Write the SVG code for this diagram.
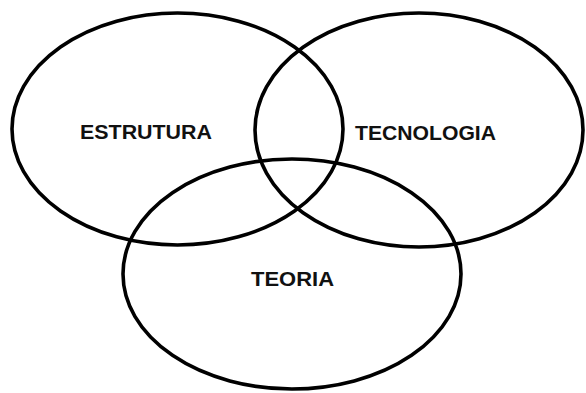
<svg xmlns="http://www.w3.org/2000/svg" width="586" height="393" viewBox="0 0 586 393">
<style>
.set{fill:none;stroke:#000;stroke-width:3.6}
.lbl{font-family:"Liberation Sans",Arial,sans-serif;font-weight:bold;font-size:21px;fill:#111;text-anchor:start}
</style>
<rect width="586" height="393" fill="#fff"/>
<g id="estrutura">
<ellipse class="set" cx="177.5" cy="129" rx="165.5" ry="116"/>
<text class="lbl" x="80" y="139" textLength="132" lengthAdjust="spacingAndGlyphs">ESTRUTURA</text>
</g>
<g id="tecnologia">
<ellipse class="set" cx="419" cy="130" rx="164" ry="117"/>
<text class="lbl" x="355" y="140" textLength="141" lengthAdjust="spacingAndGlyphs">TECNOLOGIA</text>
</g>
<g id="teoria">
<ellipse class="set" cx="292" cy="274" rx="169" ry="115"/>
<text class="lbl" x="251" y="286" textLength="83" lengthAdjust="spacingAndGlyphs">TEORIA</text>
</g>
<g id="connectors"></g>
</svg>
